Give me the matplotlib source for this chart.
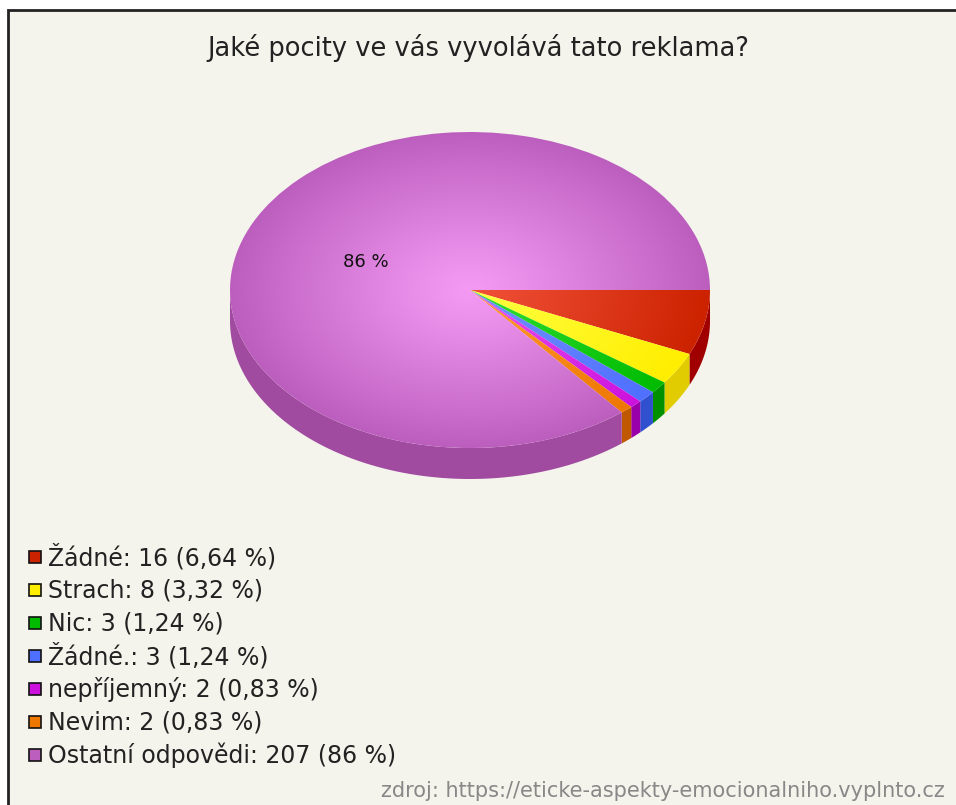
import numpy as np
import matplotlib
matplotlib.use("Agg")
import matplotlib.pyplot as plt
from matplotlib.patches import Wedge, Polygon, Rectangle
from matplotlib.transforms import Affine2D
from matplotlib.colors import to_rgb

# ---- data ----
labels = ["Žádné", "Strach", "Nic", "Žádné.", "nepříjemný", "Nevim", "Ostatní odpovědi"]
counts = [16, 8, 3, 3, 2, 2, 207]
pct_text = ["6,64 %", "3,32 %", "1,24 %", "1,24 %", "0,83 %", "0,83 %", "86 %"]
colors = ["#cc2200", "#ffee00", "#00bb00", "#4f6fff", "#cc11dd", "#ee7700", "#bc5ebe"]
light = ["#f05038", "#ffff40", "#30dd30", "#7090ff", "#e850f0", "#ff9930", "#f49af4"]
side = ["#a00000", "#e0cc00", "#009000", "#3050d0", "#9a00aa", "#c05800", "#a04aa0"]

title = "Jaké pocity ve vás vyvolává tato reklama?"
source = "zdroj: https://eticke-aspekty-emocionalniho.vyplnto.cz"

W, H = 956, 805
plt.rcParams["font.family"] = ["DejaVu Sans"]

fig = plt.figure(figsize=(W / 100, H / 100), dpi=100)
fig.patch.set_facecolor("white")
ax = fig.add_axes([0, 0, 1, 1])
ax.set_xlim(0, W)
ax.set_ylim(H, 0)
ax.axis("off")

# panel background + frame
bg = "#f4f4ec"
ax.add_patch(Rectangle((8, 10), W, H, facecolor=bg, edgecolor="#222222", lw=2))

ax.text(478, 48, title, ha="center", va="center", fontsize=18.5, color="#222222")

# ---- 3D pie ----
cx, cy, a, b, depth = 470, 290, 240, 158, 31
ell = Affine2D().scale(a, b).translate(cx, cy) + ax.transData

total = sum(counts)
bounds = np.concatenate([[0], np.cumsum(counts)]) / total * 360

# side walls for the front half
for i in range(len(counts)):
    t0, t1 = max(bounds[i], 0), min(bounds[i + 1], 180)
    if t1 <= t0:
        continue
    t = np.radians(np.linspace(t0, t1, 80))
    top = np.column_stack([cx + a * np.cos(t), cy + b * np.sin(t)])
    bot = top[::-1] + [0, depth]
    ax.add_patch(Polygon(np.vstack([top, bot]), closed=True,
                         facecolor=side[i], edgecolor="none"))

# top face with radial shading
gx, gy = np.meshgrid(np.linspace(-1, 1, 400), np.linspace(-1, 1, 400))
r = np.clip(np.hypot(gx, gy), 0, 1)
for i in range(len(counts)):
    w = Wedge((0, 0), 1, bounds[i], bounds[i + 1], transform=ell,
              facecolor="none", edgecolor="none")
    ax.add_patch(w)
    c0, c1 = np.array(to_rgb(light[i])), np.array(to_rgb(colors[i]))
    k = (r ** 1.1)[..., None]
    img = c0 * (1 - k) + c1 * k
    im = ax.imshow(img, extent=(cx - a, cx + a, cy + b, cy - b),
                   interpolation="bilinear", zorder=2)
    im.set_clip_path(w)

ax.text(366, 262, "86 %", ha="center", va="center", fontsize=13,
        color="#111111", zorder=3)

# ---- legend ----
y0, dy = 557, 33
for i, lab in enumerate(labels):
    y = y0 + i * dy
    ax.add_patch(Rectangle((29, y - 6), 12, 12, facecolor=colors[i],
                           edgecolor="#111111", lw=1.2))
    ax.text(48, y, f"{lab}: {counts[i]} ({pct_text[i]})", ha="left",
            va="center", fontsize=17, color="#222222")

ax.text(945, 791, source, ha="right", va="center", fontsize=15,
        color="#888888")

fig.savefig("out.png", dpi=100, facecolor=fig.get_facecolor())
